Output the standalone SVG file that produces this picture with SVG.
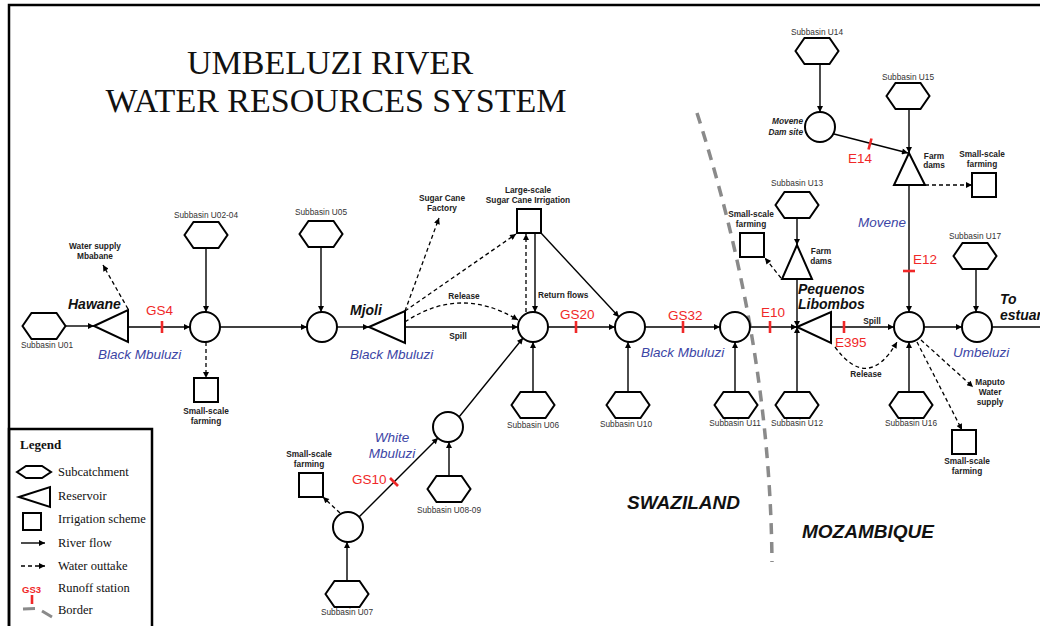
<svg xmlns="http://www.w3.org/2000/svg" xmlns:xlink="http://www.w3.org/1999/xlink" width="1040" height="626" viewBox="0 0 1040 626">
<style>
.frame{fill:none;stroke:#000;stroke-width:2.5}
.hex{fill:#fff;stroke:#000;stroke-width:2}
.node{fill:#fff;stroke:#000;stroke-width:2}
.flow{fill:none;stroke:#000;stroke-width:1.4;marker-end:url(#ah)}
.flown{fill:none;stroke:#000;stroke-width:1.4}
.take{fill:none;stroke:#000;stroke-width:1.3;stroke-dasharray:4 3;marker-end:url(#ah)}
.tick{stroke:#f02828;stroke-width:2.6}
.border{fill:none;stroke:#8a8a8a;stroke-width:3.5;stroke-dasharray:11 8}
.sub{font-family:'Liberation Sans',Arial,sans-serif;font-size:8.3px;fill:#333;text-anchor:middle}
.lbl{font-family:'Liberation Sans',Arial,sans-serif;font-size:8.3px;font-weight:bold;fill:#222;text-anchor:middle}
.gs{font-family:'Liberation Sans',Arial,sans-serif;font-size:13.5px;fill:#f02828}
.res{font-family:'Liberation Sans',Arial,sans-serif;font-size:14px;font-weight:bold;font-style:italic;fill:#111}
.riv{font-family:'Liberation Sans',Arial,sans-serif;font-size:13.5px;font-style:italic;fill:#3c45a5}
.cty{font-family:'Liberation Sans',Arial,sans-serif;font-size:19px;font-weight:bold;font-style:italic;fill:#111}
.title{font-family:'Liberation Serif','Times New Roman',serif;font-size:34px;fill:#111;text-anchor:middle}
.leg{font-family:'Liberation Serif','Times New Roman',serif;font-size:12.5px;fill:#111}
</style>
<defs>
<marker id="ah" viewBox="0 0 10 10" refX="10" refY="5" markerWidth="7" markerHeight="6" markerUnits="userSpaceOnUse" orient="auto"><path d="M0,0 L10,5 L0,10 z" fill="#000"/></marker>
<polygon id="hx" points="-21.5,0 -12.5,-13 12.5,-13 21.5,0 12.5,13 -12.5,13"/>
</defs>
<rect width="1040" height="626" fill="#fff"/>
<path class="frame" d="M9,640 L9,5 L1045,5"/>

<g id="title">
<text class="title" x="330" y="74">UMBELUZI RIVER</text>
<text class="title" x="336" y="112">WATER RESOURCES SYSTEM</text>
</g>

<path id="border-line" class="border" d="M697,113 Q770,340 772,562"/>
<text class="cty" x="627" y="509">SWAZILAND</text>
<text class="cty" x="802" y="538">MOZAMBIQUE</text>

<g id="connectors">
<path class="flow" d="M66,326 L94,326"/>
<path class="flow" d="M128,327 L190,327"/>
<path class="take" d="M128,309 L103,265"/>
<path class="flow" d="M206,248 L206,312"/>
<path class="take" d="M206,342 L206,378"/>
<path class="flow" d="M220,327 L307,327"/>
<path class="flow" d="M321,247 L321,312"/>
<path class="flow" d="M337,327 L369,327"/>
<path class="take" d="M405,311 L439,218"/>
<path class="take" d="M405,311 L516,234"/>
<path class="take" d="M405,322 Q460,285 518,320"/>
<path class="flow" d="M405,327 L518,327"/>
<path class="take" d="M526,312 L526,234"/>
<path class="flow" d="M535,233 L535,312"/>
<path class="flow" d="M541,233 L619,317"/>
<path class="flow" d="M548,327 L615,327"/>
<path class="flow" d="M533,392 L533,342"/>
<path class="flow" d="M628,392 L628,342"/>
<path class="flow" d="M459,417 L523,338"/>
<path class="flow" d="M449,476 L449,442"/>
<path class="flow" d="M359,517 L438,438"/>
<path class="flow" d="M347,581 L347,542"/>
<path class="take" d="M340,513 L323,497"/>
<path class="flow" d="M645,327 L720,327"/>
<path class="flow" d="M735,392 L735,342"/>
<path class="flow" d="M750,327 L797,327"/>
<path class="flow" d="M797,218 L797,245"/>
<path class="flow" d="M797,279 L797,327"/>
<path class="flow" d="M797,392 L797,327"/>
<path class="take" d="M781,278 L765,258"/>
<path class="flow" d="M831,327 L894,327"/>
<path class="take" d="M835,347 Q868,392 897,342"/>
<path class="flow" d="M820,64 L820,112"/>
<path class="flow" d="M834,134 L908,153"/>
<path class="flow" d="M909,106 L909,153"/>
<path class="take" d="M925,185 L972,185"/>
<path class="flow" d="M909,185 L909,312"/>
<path class="flow" d="M909,392 L909,342"/>
<path class="flow" d="M924,327 L962,327"/>
<path class="flow" d="M976,269 L976,312"/>
<path class="flown" d="M992,327 L1040,327"/>
<path class="take" d="M921,340 L973,387"/>
<path class="take" d="M917,342 L962,430"/>
</g>

<g id="stations">
<line class="tick" x1="162" y1="321" x2="162" y2="333"/>
<text class="gs" x="146" y="315">GS4</text>
<line class="tick" x1="576" y1="321" x2="576" y2="333"/>
<text class="gs" x="560" y="319">GS20</text>
<line class="tick" x1="683" y1="321" x2="683" y2="333"/>
<text class="gs" x="668" y="320">GS32</text>
<line class="tick" x1="770" y1="321" x2="770" y2="333"/>
<text class="gs" x="761" y="317">E10</text>
<line class="tick" x1="844" y1="321" x2="844" y2="333"/>
<text class="gs" x="835" y="347">E395</text>
<line class="tick" x1="903" y1="271" x2="915" y2="271"/>
<text class="gs" x="913" y="264">E12</text>
<line class="tick" x1="871.5" y1="138.5" x2="868.5" y2="149.5"/>
<text class="gs" x="848" y="163">E14</text>
<line class="tick" x1="390" y1="478" x2="398" y2="486"/>
<text class="gs" x="352" y="484">GS10</text>
</g>

<g id="subbasins">
<g id="U01"><use xlink:href="#hx" x="44" y="326" class="hex"/><text class="sub" x="47" y="348">Subbasin U01</text></g>
<g id="U02-04"><use xlink:href="#hx" x="206" y="235" class="hex"/><text class="sub" x="206" y="218">Subbasin U02-04</text></g>
<g id="U05"><use xlink:href="#hx" x="321" y="234" class="hex"/><text class="sub" x="321" y="215">Subbasin U05</text></g>
<g id="U06"><use xlink:href="#hx" x="533" y="405" class="hex"/><text class="sub" x="533" y="428">Subbasin U06</text></g>
<g id="U10"><use xlink:href="#hx" x="628" y="405" class="hex"/><text class="sub" x="626" y="427">Subbasin U10</text></g>
<g id="U11"><use xlink:href="#hx" x="736" y="405" class="hex"/><text class="sub" x="735" y="426">Subbasin U11</text></g>
<g id="U12"><use xlink:href="#hx" x="797" y="405" class="hex"/><text class="sub" x="797" y="426">Subbasin U12</text></g>
<g id="U13"><use xlink:href="#hx" x="797" y="205" class="hex"/><text class="sub" x="797" y="186">Subbasin U13</text></g>
<g id="U14"><use xlink:href="#hx" x="817" y="51" class="hex"/><text class="sub" x="817" y="35">Subbasin U14</text></g>
<g id="U15"><use xlink:href="#hx" x="908" y="96" class="hex"/><text class="sub" x="908" y="80">Subbasin U15</text></g>
<g id="U16"><use xlink:href="#hx" x="911" y="405" class="hex"/><text class="sub" x="911" y="426">Subbasin U16</text></g>
<g id="U17"><use xlink:href="#hx" x="975" y="256" class="hex"/><text class="sub" x="975" y="239">Subbasin U17</text></g>
<g id="U07"><use xlink:href="#hx" x="347" y="594" class="hex"/><text class="sub" x="347" y="615">Subbasin U07</text></g>
<g id="U08-09"><use xlink:href="#hx" x="449" y="489" class="hex"/><text class="sub" x="449" y="513">Subbasin U08-09</text></g>
</g>

<g id="junctions">
<circle id="J1" class="node" cx="205" cy="327" r="15"/>
<circle id="J2" class="node" cx="322" cy="327" r="15"/>
<circle id="J3" class="node" cx="533" cy="327" r="15"/>
<circle id="J4" class="node" cx="630" cy="327" r="15"/>
<circle id="J5" class="node" cx="735" cy="327" r="15"/>
<circle id="J6" class="node" cx="909" cy="327" r="15"/>
<circle id="J7" class="node" cx="977" cy="327" r="15"/>
<circle id="JWM1" class="node" cx="448" cy="427" r="15"/>
<circle id="JWM2" class="node" cx="348" cy="527" r="15"/>
<g id="movene-dam"><circle class="node" cx="820" cy="127" r="15"/>
<text class="lbl" style="font-style:italic;text-anchor:end" x="803" y="124">Movene</text>
<text class="lbl" style="font-style:italic;text-anchor:end" x="803" y="135">Dam site</text></g>
</g>

<g id="reservoirs">
<g id="hawane"><polygon class="node" points="94,326 128,310 128,342"/><text class="res" x="68" y="309">Hawane</text></g>
<g id="mjoli"><polygon class="node" points="369,327 405,311 405,343"/><text class="res" x="350" y="315">Mjoli</text></g>
<g id="pequenos"><polygon class="node" points="797,327 831,312 831,343"/><text class="res" x="798" y="294">Pequenos</text><text class="res" x="798" y="309">Libombos</text></g>
<g id="farmdams-u13"><polygon class="node" points="797,245 782,279 812,279"/><text class="lbl" x="821" y="254">Farm</text><text class="lbl" x="821" y="264">dams</text></g>
<g id="farmdams-movene"><polygon class="node" points="909,153 894,185 925,185"/><text class="lbl" x="934" y="159">Farm</text><text class="lbl" x="934" y="168">dams</text></g>
</g>

<g id="irrigation">
<g id="ssf1"><rect class="node" x="194" y="378" width="24" height="24"/><text class="lbl" x="206" y="414">Small-scale</text><text class="lbl" x="206" y="424">farming</text></g>
<g id="lsi"><rect class="node" x="517" y="209" width="24" height="24"/><text class="lbl" x="528" y="193">Large-scale</text><text class="lbl" x="528" y="203">Sugar Cane Irrigation</text></g>
<g id="ssf-wm"><rect class="node" x="299" y="473" width="24" height="24"/><text class="lbl" x="309" y="457">Small-scale</text><text class="lbl" x="309" y="467">farming</text></g>
<g id="ssf-u13"><rect class="node" x="740" y="233" width="24" height="24"/><text class="lbl" x="751" y="217">Small-scale</text><text class="lbl" x="751" y="227">farming</text></g>
<g id="ssf-movene"><rect class="node" x="972" y="173" width="24" height="24"/><text class="lbl" x="982" y="157">Small-scale</text><text class="lbl" x="982" y="167">farming</text></g>
<g id="ssf-j6"><rect class="node" x="952" y="430" width="24" height="24"/><text class="lbl" x="967" y="464">Small-scale</text><text class="lbl" x="967" y="474">farming</text></g>
</g>

<g id="labels">
<text class="lbl" x="95" y="249">Water supply</text>
<text class="lbl" x="95" y="259">Mbabane</text>
<text class="lbl" x="442" y="201">Sugar Cane</text>
<text class="lbl" x="442" y="211">Factory</text>
<text class="lbl" x="464" y="299">Release</text>
<text class="lbl" x="458" y="339">Spill</text>
<text class="lbl" style="text-anchor:start" x="538" y="298">Return flows</text>
<text class="lbl" x="872" y="324">Spill</text>
<text class="lbl" x="866" y="377">Release</text>
<text class="lbl" x="990" y="385">Maputo</text>
<text class="lbl" x="990" y="395">Water</text>
<text class="lbl" x="990" y="405">supply</text>
<text class="res" x="1000" y="304">To</text>
<text class="res" x="1000" y="320">estuary</text>
<text class="riv" x="98" y="359">Black Mbuluzi</text>
<text class="riv" x="350" y="359">Black Mbuluzi</text>
<text class="riv" x="641" y="357">Black Mbuluzi</text>
<text class="riv" x="392" y="442" text-anchor="middle">White</text>
<text class="riv" x="392" y="458" text-anchor="middle">Mbuluzi</text>
<text class="riv" x="858" y="227">Movene</text>
<text class="riv" x="953" y="357">Umbeluzi</text>
</g>

<g id="legend">
<rect class="frame" x="9" y="429" width="143" height="220"/>
<text class="leg" style="font-weight:bold;font-size:13px" x="20" y="449">Legend</text>
<polygon class="hex" points="17,472 26,466 42,466 51,472 42,478 26,478"/>
<text class="leg" x="58" y="476">Subcatchment</text>
<polygon class="node" points="19,497 50,487 50,507"/>
<text class="leg" x="58" y="500">Reservoir</text>
<rect class="node" x="23" y="513" width="18" height="17"/>
<text class="leg" x="58" y="523">Irrigation scheme</text>
<path class="flow" d="M21,543 L45,543"/>
<text class="leg" x="58" y="547">River flow</text>
<path class="take" d="M21,566 L45,566"/>
<text class="leg" x="58" y="570">Water outtake</text>
<text style="font-family:'Liberation Sans',Arial,sans-serif;font-size:9.5px;font-weight:bold;fill:#f02828" x="22" y="593">GS3</text>
<line class="tick" x1="32" y1="595" x2="32" y2="604"/>
<text class="leg" x="58" y="592">Runoff station</text>
<path d="M23,609 L35,608.5 M42,611 L52,617" stroke="#8a8a8a" stroke-width="3" fill="none"/>
<text class="leg" x="58" y="614">Border</text>
</g>
</svg>
